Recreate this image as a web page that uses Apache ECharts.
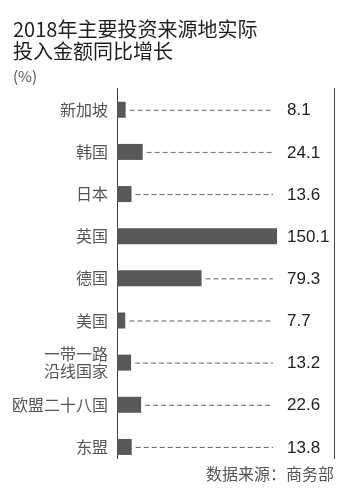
<!DOCTYPE html>
<html><head><meta charset="utf-8">
<script src="https://cdn.jsdelivr.net/npm/echarts@6/dist/echarts.min.js"></script>
<style>html,body{margin:0;padding:0;background:#fff}#c{width:364px;height:497px}</style>
</head><body><div id="c"></div>
<script>
const categories = ['新加坡','韩国','日本','英国','德国','美国','一带一路\n沿线国家','欧盟二十八国','东盟'];
const values = [8.1, 24.1, 13.6, 150.1, 79.3, 7.7, 13.2, 22.6, 13.8];
const valueLabels = ['8.1','24.1','13.6','150.1','79.3','7.7','13.2','22.6','13.8'];
const titleText = '2018年主要投资来源地实际\n投入金额同比增长';
const unitText = '(%)';
const sourceText = '数据来源：商务部';

const CJK = '"Noto Sans CJK SC", "Noto Sans", sans-serif';
const chart = echarts.init(document.getElementById('c'), null, {renderer: 'canvas'});
chart.setOption({
  animation: false,
  backgroundColor: '#fff',
  title: {
    text: titleText, left: 13, top: 18, padding: 0,
    textStyle: {fontSize: 20, lineHeight: 22, fontWeight: 'normal', color: '#1e1e1e', fontFamily: CJK}
  },
  grid: {left: 117, top: 88.7, width: 213.3, height: 379.3, containLabel: false},
  xAxis: {type: 'value', min: 0, max: 200, show: false},
  yAxis: {
    type: 'category', data: categories, inverse: true,
    axisLine: {show: false}, axisTick: {show: false}, splitLine: {show: false},
    axisLabel: {margin: 9, fontSize: 16, lineHeight: 17, color: '#555', fontFamily: CJK}
  },
  graphic: [
    {type: 'line', shape: {x1: 117.5, y1: 88, x2: 117.5, y2: 459}, style: {stroke: '#444', lineWidth: 1}},
    {type: 'line', shape: {x1: 334.5, y1: 88, x2: 334.5, y2: 459}, style: {stroke: '#444', lineWidth: 1}},
    {type: 'text', left: 13, top: 69, style: {text: unitText, fontSize: 15, fill: '#555', fontFamily: CJK}},
    {type: 'text', right: 30, top: 466, style: {text: sourceText, fontSize: 16, fill: '#555', fontFamily: CJK}}
  ],
  series: [
    {
      type: 'bar', data: values, barWidth: 16,
      itemStyle: {color: '#58585a'}
    },
    {
      type: 'custom',
      data: values.map((v, i) => [v, i]),
      encode: {x: 0, y: 1},
      renderItem: function (params, api) {
        const v = api.value(0);
        const idx = api.value(1);
        const p = api.coord([v, idx]);
        const cs = params.coordSys;
        const dashEnd = cs.x + 156;
        const children = [];
        const x1 = p[0] + 4;
        if (x1 < dashEnd) {
          children.push({type: 'line', shape: {x1: x1, y1: p[1] + 0.5, x2: dashEnd, y2: p[1] + 0.5},
            style: {stroke: '#666', lineWidth: 1, lineDash: [5, 3]}});
        }
        children.push({type: 'text', style: {text: valueLabels[idx], x: cs.x + 170, y: p[1] + 1,
          verticalAlign: 'middle', align: 'left', fontSize: 17, fill: '#222', fontFamily: '"Liberation Sans", Arial, sans-serif'}});
        return {type: 'group', children: children};
      },
      z: 3
    }
  ]
});
</script></body></html>
